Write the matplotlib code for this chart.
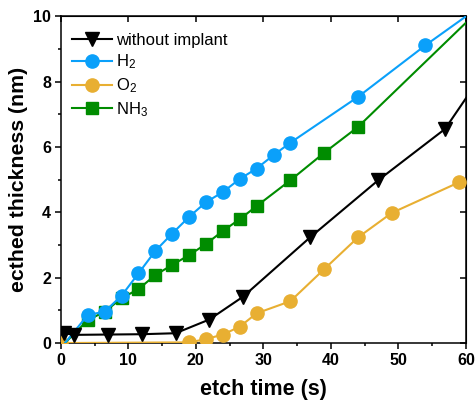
import matplotlib
matplotlib.use("Agg")
import matplotlib.pyplot as plt
from matplotlib.ticker import MultipleLocator

plt.rcParams['font.family'] = ['Liberation Sans', 'DejaVu Sans']
plt.rcParams['mathtext.fontset'] = 'custom'
plt.rcParams['mathtext.rm'] = 'Liberation Sans'
plt.rcParams['mathtext.it'] = 'Liberation Sans:italic'
plt.rcParams['mathtext.bf'] = 'Liberation Sans:bold'

# data
t_none = [0.5, 2.0, 7.0, 12.0, 17.0, 22.0, 27.0, 36.9, 47.0, 56.9, 63.0]
y_none = [0.30, 0.25, 0.26, 0.27, 0.30, 0.72, 1.42, 3.23, 4.98, 6.55, 8.4]

t_h2 = [0.7, 4.0, 6.5, 9.0, 11.5, 14.0, 16.5, 19.0, 21.5, 24.0, 26.5, 29.0, 31.5, 34.0, 44.0, 54.0, 62.0]
y_h2 = [0.02, 0.86, 0.96, 1.45, 2.13, 2.82, 3.35, 3.86, 4.31, 4.62, 5.02, 5.34, 5.75, 6.13, 7.53, 9.11, 10.29]

t_o2 = [0.0, 19.0, 21.5, 24.0, 26.5, 29.0, 34.0, 39.0, 44.0, 49.0, 59.0]
y_o2 = [0.0, 0.02, 0.12, 0.26, 0.50, 0.91, 1.28, 2.26, 3.23, 3.98, 4.92]

t_nh3 = [0.7, 4.0, 6.5, 9.0, 11.5, 14.0, 16.5, 19.0, 21.5, 24.0, 26.5, 29.0, 34.0, 39.0, 44.0, 62.0]
y_nh3 = [0.02, 0.70, 0.96, 1.37, 1.65, 2.08, 2.39, 2.69, 3.03, 3.43, 3.79, 4.19, 4.98, 5.82, 6.61, 10.2]

labels = ['without implant', 'H$_\\mathrm{2}$', 'O$_\\mathrm{2}$', 'NH$_\\mathrm{3}$']

fig = plt.figure(figsize=(4.75, 4.05), dpi=100)
ax = fig.add_axes([0.128, 0.153, 0.853, 0.807])

c_blue = '#0AA0FA'
c_orange = '#E8AF32'
c_green = '#008C00'

ax.plot(t_o2, y_o2, '-', color=c_orange, lw=1.5, marker='o', ms=9.5, mec=c_orange, label=labels[2], zorder=3)
ax.plot(t_nh3, y_nh3, '-', color=c_green, lw=1.5, marker='s', ms=8, mec=c_green, markevery=list(range(1, len(t_nh3))), label=labels[3], zorder=4)
ax.plot(t_h2, y_h2, '-', color=c_blue, lw=1.5, marker='o', ms=9.5, mec=c_blue, markevery=list(range(1, len(t_h2))), label=labels[1], zorder=5)
ax.plot(t_none, y_none, '-', color='black', lw=1.5, marker='v', ms=9.5, mec='black', label=labels[0], zorder=6)

ax.set_xlim(0, 60)
ax.set_ylim(0, 10)
ax.xaxis.set_major_locator(MultipleLocator(10))
ax.xaxis.set_minor_locator(MultipleLocator(5))
ax.yaxis.set_major_locator(MultipleLocator(2))
ax.yaxis.set_minor_locator(MultipleLocator(1))
ax.tick_params(which='major', direction='out', length=4, width=1.1, labelsize=11.5, pad=3)
ax.tick_params(which='minor', direction='out', length=2.5, width=1.1)
for lab in ax.get_xticklabels() + ax.get_yticklabels():
    lab.set_fontweight('bold')
for s in ax.spines.values():
    s.set_linewidth(1.1)

secx = ax.secondary_xaxis('top')
secx.set_xticks([0, 10, 20, 30, 40, 50, 60])
secx.tick_params(direction='in', length=4, width=1.1, labeltop=False)
secy = ax.secondary_yaxis('right')
secy.set_yticks([0, 2, 4, 6, 8, 10])
secy.tick_params(direction='in', length=4, width=1.1, labelright=False)

ax.set_xlabel('etch time (s)', fontsize=15.5, fontweight='bold', labelpad=8)
ax.set_ylabel('ecthed thickness (nm)', fontsize=15.3, fontweight='bold', labelpad=4)

h, l = ax.get_legend_handles_labels()
order = [3, 2, 0, 1]
leg = ax.legend([h[i] for i in order], [l[i] for i in order], loc='upper left', frameon=False,
                fontsize=12, handlelength=2.4, handletextpad=0.2, labelspacing=0.3,
                borderaxespad=0.3, bbox_to_anchor=(0.0, 0.985))

fig.savefig('out.png', dpi=100)
